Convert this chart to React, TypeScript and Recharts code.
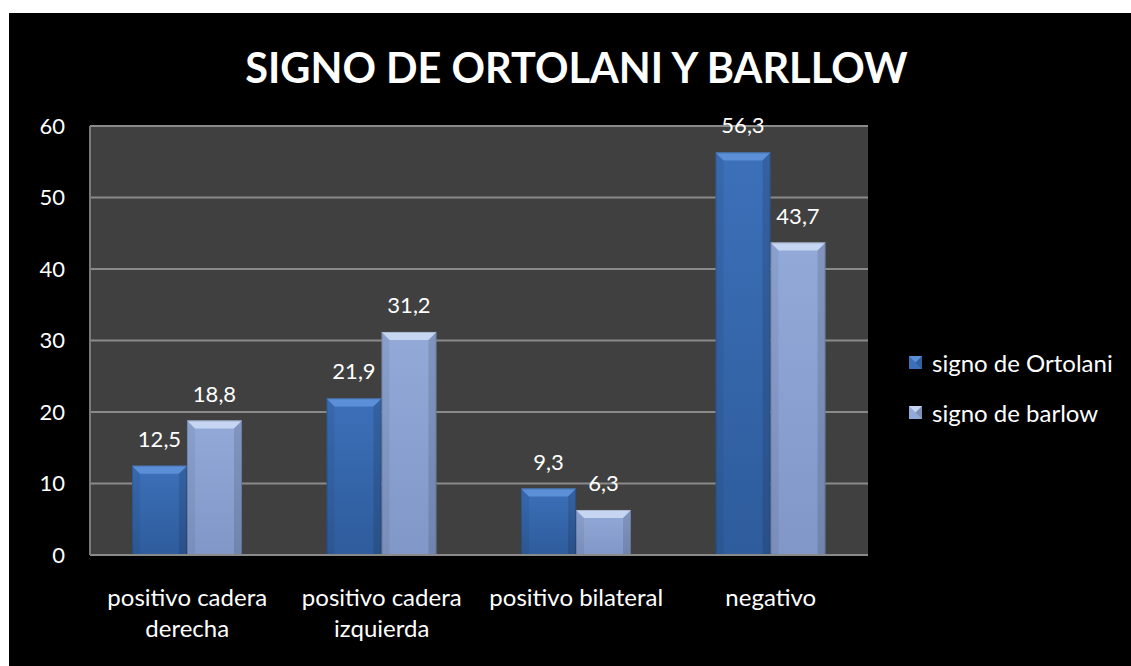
import React from 'react';
import {
    BarChart, Bar, XAxis, YAxis, CartesianGrid, Legend, LabelList,
} from 'recharts';

const categories = ['positivo cadera\nderecha', 'positivo cadera\nizquierda', 'positivo bilateral', 'negativo'];
const ortolani = [12.5, 21.9, 9.3, 56.3];
const barlow = [18.8, 31.2, 6.3, 43.7];
const yTicks = [0, 10, 20, 30, 40, 50, 60];
const seriesNames = ['signo de Ortolani', 'signo de barlow'];

const data = categories.map((cat, i) => ({
    cat,
    ortolani: ortolani[i],
    barlow: barlow[i],
}));

const FONT = "Lato, 'Open Sans', sans-serif";

const palette: Record<string, { top: string; bottom: string; bevel: string }> = {
    ortolani: { top: '#3c70b9', bottom: '#2e5c9c', bevel: '#5b8fd8' },
    barlow: { top: '#93aad9', bottom: '#8197c7', bevel: '#c6d6f2' },
};

function BevelBar(props: any) {
    const { x, y, width: w, height: h, kind } = props;
    if (!h || h <= 0) return null;
    const c = palette[kind];
    const b = Math.min(8, w / 2, h / 2);
    return (
        <g>
            <rect x={x} y={y} width={w} height={h} fill={`url(#grad-${kind})`} />
            <polygon
                points={`${x},${y} ${x + w},${y} ${x + w - b},${y + b} ${x + b},${y + b}`}
                fill={c.bevel}
            />
            <polygon
                points={`${x},${y} ${x + b},${y + b} ${x + b},${y + h} ${x},${y + h}`}
                fill="#000000"
                fillOpacity={0.06}
            />
            <polygon
                points={`${x + w},${y} ${x + w - b},${y + b} ${x + w - b},${y + h} ${x + w},${y + h}`}
                fill="#000000"
                fillOpacity={0.12}
            />
            <rect x={x + 0.5} y={y + 0.5} width={w - 1} height={h - 1} fill="none" stroke="#000" strokeOpacity={0.15} />
        </g>
    );
}

function CategoryTick(props: any) {
    const { x, y, payload } = props;
    const lines = String(payload.value).split('\n');
    return (
        <text x={x} y={y} textAnchor="middle" fill="#ffffff" fontSize={24} fontFamily={FONT}>
            {lines.map((line, i) => (
                <tspan key={i} x={x} dy={i === 0 ? 51 : 31}>{line}</tspan>
            ))}
        </text>
    );
}

function LegendMarker({ kind }: { kind: string }) {
    const c = palette[kind];
    return (
        <svg width={13} height={13} style={{ display: 'block' }}>
            <rect x={0} y={0} width={13} height={13} fill={c.top} />
            <polygon points="0,0 13,0 6.5,6.5" fill={c.bevel} />
            <polygon points="13,0 13,13 6.5,6.5" fill="#000" fillOpacity={0.15} />
        </svg>
    );
}

function renderLegend() {
    const kinds = ['ortolani', 'barlow'];
    return (
        <div style={{ fontFamily: FONT, fontSize: 24, color: '#ffffff' }}>
            {kinds.map((k, i) => (
                <div
                    key={k}
                    style={{ display: 'flex', alignItems: 'center', height: 24, marginBottom: 26 }}
                >
                    <LegendMarker kind={k} />
                    <span style={{ marginLeft: 10 }}>{seriesNames[i]}</span>
                </div>
            ))}
        </div>
    );
}

const fmt = (v: any) => String(v).replace('.', ',');

export default function App() {
    return (
        <div
            style={{
                position: 'absolute',
                left: 9,
                top: 13,
                width: 1122,
                height: 653,
                background: '#000000',
                overflow: 'hidden',
            }}
        >
            <div
                style={{
                    position: 'absolute',
                    left: 0,
                    top: 34,
                    width: 1135,
                    textAlign: 'center',
                    color: '#ffffff',
                    fontFamily: FONT,
                    fontWeight: 700,
                    fontSize: 41.5,
                    lineHeight: 1,
                }}
            >
                SIGNO DE ORTOLANI Y BARLLOW
            </div>
            <BarChart
                width={1122}
                height={653}
                data={data}
                margin={{ top: 113, right: 43, bottom: 0, left: 0 }}
                barCategoryGap="21.6%"
                barGap={0}
            >
                <defs>
                    {Object.keys(palette).map((k) => (
                        <linearGradient key={k} id={`grad-${k}`} x1="0" y1="0" x2="0" y2="1">
                            <stop offset="0%" stopColor={palette[k].top} />
                            <stop offset="100%" stopColor={palette[k].bottom} />
                        </linearGradient>
                    ))}
                </defs>
                <CartesianGrid
                    vertical={false}
                    fill="#404040"
                    stroke="#8a8a8a"
                    strokeWidth={2}
                />
                <XAxis
                    dataKey="cat"
                    height={111}
                    interval={0}
                    tickLine={false}
                    tickSize={0}
                    tickMargin={0}
                    axisLine={{ stroke: '#8a8a8a', strokeWidth: 2 }}
                    tick={<CategoryTick />}
                />
                <YAxis
                    width={81}
                    domain={[0, 60]}
                    ticks={yTicks}
                    interval={0}
                    tickLine={false}
                    tickSize={0}
                    tickMargin={25}
                    axisLine={{ stroke: '#7a7a7a', strokeWidth: 2 }}
                    tick={{ fill: '#ffffff', fontSize: 22, fontFamily: FONT }}
                />
                <Legend
                    verticalAlign="top"
                    align="right"
                    layout="vertical"
                    wrapperStyle={{ left: 900, top: 337, width: 220 }}
                    content={renderLegend}
                />
                <Bar
                    dataKey="ortolani"
                    name={seriesNames[0]}
                    isAnimationActive={false}
                    shape={(p: any) => <BevelBar {...p} kind="ortolani" />}
                >
                    <LabelList
                        dataKey="ortolani"
                        position="top"
                        offset={19}
                        formatter={fmt}
                        fill="#ffffff"
                        fontSize={22}
                        fontFamily={FONT}
                    />
                </Bar>
                <Bar
                    dataKey="barlow"
                    name={seriesNames[1]}
                    isAnimationActive={false}
                    shape={(p: any) => <BevelBar {...p} kind="barlow" />}
                >
                    <LabelList
                        dataKey="barlow"
                        position="top"
                        offset={19}
                        formatter={fmt}
                        fill="#ffffff"
                        fontSize={22}
                        fontFamily={FONT}
                    />
                </Bar>
            </BarChart>
        </div>
    );
}
